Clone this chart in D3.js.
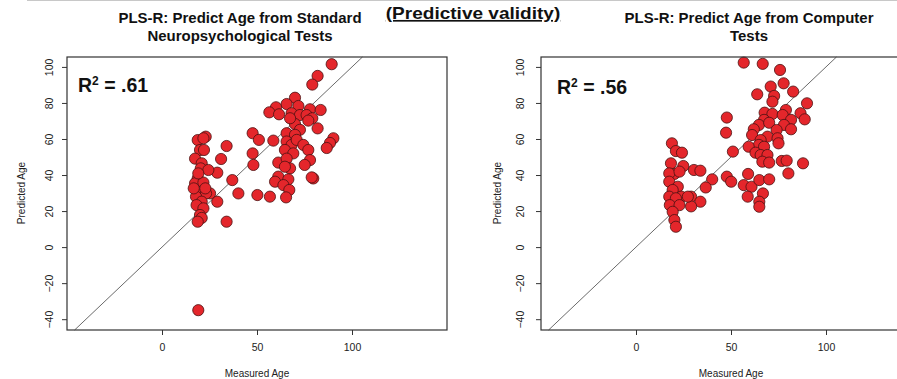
<!DOCTYPE html>
<html>
<head>
<meta charset="utf-8">
<script src="https://cdn.jsdelivr.net/npm/d3@7"></script>
<style>
  body { margin: 0; background: #fff; }
  svg { display: block; font-family: "Liberation Sans", Arial, sans-serif; }
</style>
</head>
<body>
<svg id="chart" width="897" height="379"></svg>
<script>
// tick labels
const xTicks = [0, 50, 100];
const yTicks = [-40, -20, 0, 20, 40, 60, 80, 100];

// left panel: standard neuropsychological tests
const stdMeasured = [89.3, 81.9, 79.1, 70, 65.6, 60, 56.5, 61.6, 71.8, 77.9, 83.5, 68.2, 72.6, 76.1, 79.1, 77, 70, 67.4,
  81.9, 72.6, 65.6, 70, 58.6, 47.7, 51, 65.6, 68.2, 70.9, 74.4, 77, 64.7, 69.1, 90.2, 88.4, 86.7, 47.7, 77.9, 61.2,
  48.1, 65.6, 75.1, 67.4, 64.7, 79.6, 78.8, 61.2, 59.5, 66.5, 63.9, 67, 65.3, 56.8, 50.2, 40.2, 37, 34, 31.1, 29.1,
  29.1, 34, 18.8, 23, 21.8, 20, 22.1, 17.4, 20.9, 20.4, 24.4, 18.8, 17.4, 21.8, 25.3, 20, 23.2, 17.9, 20.9, 18.2,
  21.8, 20, 20.9, 18.8, 19.1, 16.7, 22.8, 19.1];
const stdPredicted = [101.5, 95, 90.2, 82.9, 79.4, 77.6, 74.8, 73.7, 78.3, 76.5, 76.1, 74.3, 73.3, 73.3, 71.5, 70.2, 68.3, 71.5,
  65.9, 65.1, 63.2, 62.3, 59.1, 63.2, 59.5, 58.6, 56.7, 59.5, 56.7, 53.9, 53.9, 52, 60.4, 57.8, 55, 52, 48.3, 46.9,
  45.6, 49.1, 45.6, 43.7, 44.6, 38.1, 38.7, 39.1, 36.3, 37.6, 34.4, 31.7, 27.6, 28, 28.9, 29.8, 37.2, 56.1, 48.9, 41.3,
  25.2, 14.1, 59.4, 61.3, 60.4, 53.9, 53.9, 49.1, 46.5, 43.7, 42.8, 38.1, 35.4, 35.8, 29.8, 29.8, 29.8, 28, 25.2, 23.3,
  21.5, 17.8, 16.2, 14.1, 40.9, 32.6, 32.6, -35];

// right panel: computer tests
const compMeasured = [56.7, 66.7, 75.8, 77.7, 70.9, 82.7, 63.8, 72.7, 71.8, 90, 78.9, 86.6, 67.7, 71.8, 77.2, 88.8, 81.6, 67.4,
  64.7, 70.1, 77.9, 74, 81.6, 62, 61.1, 69.2, 74.5, 75, 65.6, 64.7, 67.4, 59.3, 62.9, 65.6, 69.2, 66.5, 70.1, 76.7,
  79.3, 87.9, 80.2, 47.8, 47.4, 51, 59, 47.8, 50.1, 56.7, 60.8, 64.9, 70.1, 66.8, 58.8, 64.9, 64.9, 40.1, 36.7, 30.5,
  33.9, 29, 33.9, 29, 18.9, 21, 24.2, 18.4, 24.9, 20.2, 17.5, 22.9, 17.5, 22, 19.3, 23.8, 17.5, 21, 27.3, 17.8, 22.9,
  19.3, 20.2, 21];
const compPredicted = [102.4, 101.7, 98.3, 90.9, 89.1, 86.3, 84.8, 83.9, 80.7, 79.8, 76.1, 74.3, 74.6, 73.9, 73.3, 70.9, 70.6, 70.6,
  67.8, 69, 67.8, 65, 65.4, 65.4, 62.2, 61.3, 60.4, 57.6, 59.4, 56.7, 55.7, 55.7, 52.4, 51.1, 51.1, 47.4, 46.9, 47.8,
  48, 46.5, 40.9, 71.9, 63.5, 53, 40.6, 39.1, 36.3, 34.4, 33.5, 37.2, 37.6, 29.8, 28, 25.2, 22.4, 37.6, 33.1, 42.8,
  42.4, 28, 25.2, 22.6, 57.6, 53.3, 52.4, 46.5, 45, 40.6, 40.9, 41.9, 36.3, 33.5, 31.7, 28, 28, 27.1, 28, 23.3, 23.3,
  19.6, 15, 11.3];

const svg = d3.select('#chart');

// faint rule left over from the slide above
svg.append('line')
  .attr('x1', 27).attr('x2', 897).attr('y1', 0.5).attr('y2', 0.5)
  .attr('stroke', '#c8c8c8').attr('stroke-width', 1);

function drawPanel(p) {
  const x = d3.scaleLinear().domain([-50, 150]).range([p.left, p.left + 380]);
  const y = d3.scaleLinear().domain([-46, 105.5]).range([330, 57]);
  const g = svg.append('g');

  // y = x reference line
  const lo = -46, hi = 105.5;
  g.append('line')
    .attr('x1', x(lo)).attr('y1', y(lo))
    .attr('x2', x(hi)).attr('y2', y(hi))
    .attr('stroke', '#444').attr('stroke-width', 0.8);

  const pts = p.xs.map((v, i) => ({ x: v, y: p.ys[i] }));
  g.selectAll('circle')
    .data(pts)
    .enter()
    .append('circle')
    .attr('cx', d => x(d.x))
    .attr('cy', d => y(d.y))
    .attr('r', 5.6)
    .attr('fill', '#e4262b')
    .attr('stroke', '#4a1212')
    .attr('stroke-width', 0.8);

  g.append('rect')
    .attr('x', x(-50)).attr('y', 57)
    .attr('width', x(150) - x(-50)).attr('height', 273)
    .attr('fill', 'none').attr('stroke', '#333').attr('stroke-width', 1.2);

  const xAxis = d3.axisBottom(x).tickValues(xTicks).tickSize(5).tickPadding(9).tickFormat(d3.format('d'));
  g.append('g').attr('transform', 'translate(0,330)').call(xAxis)
    .call(a => a.select('.domain').remove())
    .call(a => a.selectAll('text').attr('font-size', 10.5).attr('fill', '#222'))
    .call(a => a.selectAll('line').attr('stroke', '#333'));

  const yAxis = d3.axisLeft(y).tickValues(yTicks).tickSize(5).tickFormat(d3.format('d'));
  const ya = g.append('g').attr('transform', `translate(${x(-50)},0)`).call(yAxis);
  ya.select('.domain').remove();
  ya.selectAll('line').attr('stroke', '#333');
  ya.selectAll('text')
    .attr('font-size', 10.5).attr('fill', '#222')
    .attr('text-anchor', 'middle')
    .attr('dy', 0)
    .attr('x', 0)
    .attr('transform', `translate(${-p.tickOff},0) rotate(-90)`);

  g.append('text')
    .attr('transform', `translate(${x(-50) - p.labOff},193) rotate(-90)`)
    .attr('text-anchor', 'middle').attr('dy', '0.35em')
    .attr('font-size', 10).attr('fill', '#222')
    .text('Predicted Age');

  g.append('text')
    .attr('x', x(50)).attr('y', 377)
    .attr('text-anchor', 'middle')
    .attr('font-size', 10).attr('fill', '#222')
    .text('Measured Age');

  const r2 = g.append('text')
    .attr('x', p.r2x).attr('y', p.r2y)
    .attr('font-size', 19.5).attr('font-weight', 'bold').attr('fill', '#111');
  r2.append('tspan').text('R');
  r2.append('tspan').attr('font-size', 12).attr('dy', -7).text('2');
  r2.append('tspan').attr('dy', 7).text(' = ' + p.r2);

  // title text in the slide is slightly wider than Liberation Sans bold
  p.title.forEach((t, i) => {
    g.append('text')
      .attr('transform', `translate(${p.titleX},${23 + i * 18}) scale(1.07,1)`)
      .attr('text-anchor', 'middle')
      .attr('font-size', 14).attr('font-weight', 'bold').attr('fill', '#111')
      .text(t);
  });
}

drawPanel({
  left: 67, xs: stdMeasured, ys: stdPredicted, tickOff: 14, labOff: 46,
  r2x: 78, r2y: 92, r2: '.61', titleX: 240,
  title: ['PLS-R: Predict Age from Standard', 'Neuropsychological Tests']
});
drawPanel({
  left: 541, xs: compMeasured, ys: compPredicted, tickOff: 17, labOff: 44,
  r2x: 557, r2y: 94, r2: '.56', titleX: 749,
  title: ['PLS-R: Predict Age from Computer', 'Tests']
});

svg.append('text')
  .attr('transform', 'translate(473,19) scale(1.12,1)')
  .attr('text-anchor', 'middle')
  .attr('font-size', 17).attr('font-weight', 'bold').attr('fill', '#111')
  .attr('text-decoration', 'underline')
  .text('(Predictive validity)');
</script>
</body>
</html>
